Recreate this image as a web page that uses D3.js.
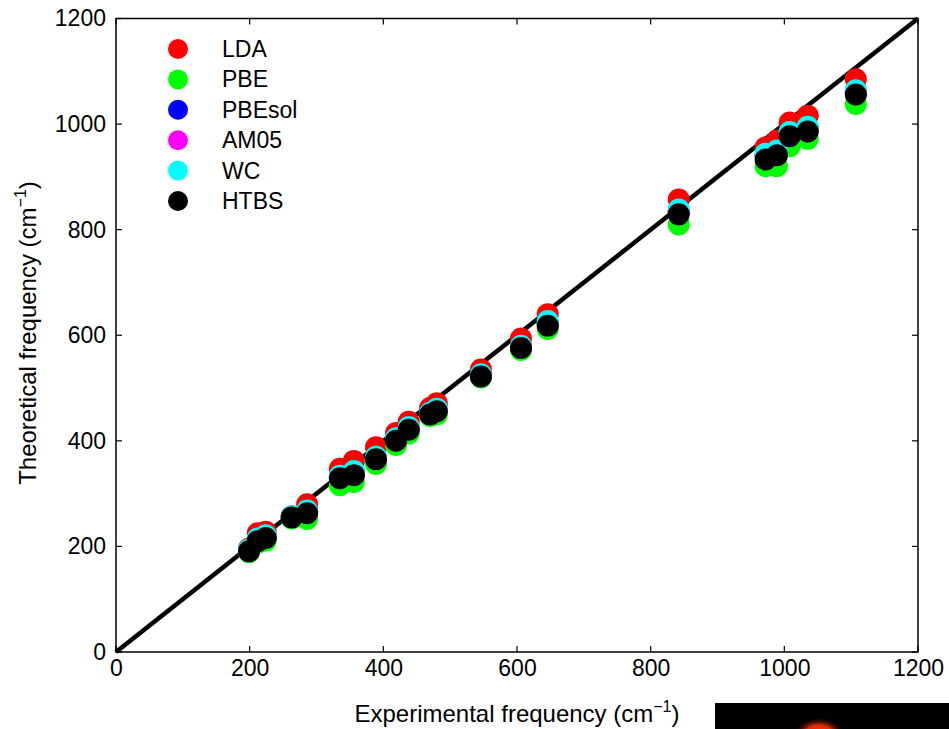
<!DOCTYPE html>
<html><head><meta charset="utf-8">
<script src="https://cdn.jsdelivr.net/npm/d3@7"></script>
<style>
body{margin:0;background:#fff;}
text{font-family:"Liberation Sans",Arial,Helvetica,sans-serif;fill:#000;}
</style></head>
<body><svg id="c" width="949" height="729"></svg>
<script>
const experimental = [199,212,224,263,286,335,356,389,419,438,470,480,546,606,646,842,972,989,1008,1035,1107];
const LDA    = [196,225,228,257,280,347,362,388,415,436,462,471,535,594,640,857,956,969,1003,1016,1085];
const PBE    = [189,207,211,253,252,316,322,356,392,414,447,450,520,572,612,810,920,920,958,972,1038];
const PBEsol = [192,213,218,256,266,331,339,366,402,423,451,458,523,577,622,834,940,946,981,991,1060];
const AM05   = [192,213,219,256,266,332,340,367,403,424,451,458,524,578,623,835,941,947,982,992,1061];
const WC     = [194,215,221,257,268,334,343,370,405,426,453,461,526,580,627,838,944,950,985,995,1064];
const HTBS   = [191,210,216,255,263,329,335,365,400,421,450,456,522,576,618,829,933,941,977,986,1056];
const seriesNames = ["LDA","PBE","PBEsol","AM05","WC","HTBS"];
const seriesColors = ["#ff0000","#00ff00","#0000ff","#ff00ff","#00ffff","#000000"];
const seriesValues = [LDA,PBE,PBEsol,AM05,WC,HTBS];
const ticks = [0,200,400,600,800,1000,1200];

const svg = d3.select("#c");
const L=116, R=918, T=18.5, B=652;
const x = d3.scaleLinear().domain([0,1200]).range([L,R]);
const y = d3.scaleLinear().domain([0,1200]).range([B,T]);

// fragment of neighbouring figure
const defs = svg.append("defs");
const rg = defs.append("radialGradient").attr("id","glow");
rg.append("stop").attr("offset","0%").attr("stop-color","#ff3a10");
rg.append("stop").attr("offset","55%").attr("stop-color","#e02a08");
rg.append("stop").attr("offset","100%").attr("stop-color","#000").attr("stop-opacity",0);
svg.append("rect").attr("x",715).attr("y",703).attr("width",234).attr("height",26).attr("fill","#000");
svg.append("ellipse").attr("cx",819).attr("cy",735).attr("rx",26).attr("ry",18).attr("fill","url(#glow)");

// diagonal line
svg.append("line").attr("x1",x(0)).attr("y1",y(0)).attr("x2",x(1200)).attr("y2",y(1200))
  .attr("stroke","#000").attr("stroke-width",4.5);

// points
seriesValues.forEach((vals,i)=>{
  svg.append("g").selectAll("circle").data(vals).join("circle")
    .attr("cx",(d,j)=>x(experimental[j])).attr("cy",d=>y(d)).attr("r",11)
    .attr("fill",seriesColors[i]);
});

// frame
svg.append("rect").attr("x",L).attr("y",T).attr("width",R-L).attr("height",B-T)
  .attr("fill","none").attr("stroke","#000").attr("stroke-width",1.5);

// axes
const fmt = d3.format("d");
const ax = svg.append("g").attr("transform",`translate(0,${B})`)
  .call(d3.axisBottom(x).tickValues(ticks).tickFormat(fmt).tickSize(0).tickPadding(8));
const ay = svg.append("g").attr("transform",`translate(${L},0)`)
  .call(d3.axisLeft(y).tickValues(ticks).tickFormat(fmt).tickSize(0).tickPadding(10));
[ax,ay].forEach(a=>{a.select(".domain").remove();a.selectAll("text").attr("font-size",23).attr("fill","#000").style("font-family","Liberation Sans, Arial, sans-serif");});

// inward ticks on four sides
const tl=6;
ticks.forEach(t=>{
  svg.append("line").attr("x1",x(t)).attr("x2",x(t)).attr("y1",B).attr("y2",B-tl).attr("stroke","#000").attr("stroke-width",1.2);
  svg.append("line").attr("x1",x(t)).attr("x2",x(t)).attr("y1",T).attr("y2",T+tl).attr("stroke","#000").attr("stroke-width",1.2);
  svg.append("line").attr("y1",y(t)).attr("y2",y(t)).attr("x1",L).attr("x2",L+tl).attr("stroke","#000").attr("stroke-width",1.2);
  svg.append("line").attr("y1",y(t)).attr("y2",y(t)).attr("x1",R).attr("x2",R-tl).attr("stroke","#000").attr("stroke-width",1.2);
});

// axis titles
const xt = svg.append("text").attr("x",517).attr("y",722).attr("text-anchor","middle").attr("font-size",24);
xt.append("tspan").text("Experimental frequency (cm");
xt.append("tspan").attr("dy",-10).attr("font-size",16).text("−1");
xt.append("tspan").attr("dy",10).text(")");

const yt = svg.append("text").attr("transform","translate(36,333) rotate(-90)").attr("text-anchor","middle").attr("font-size",24);
yt.append("tspan").text("Theoretical frequency (cm");
yt.append("tspan").attr("dy",-10).attr("font-size",16).text("−1");
yt.append("tspan").attr("dy",10).text(")");

// legend
const lg = svg.append("g");
seriesNames.forEach((n,i)=>{
  const cy = 49 + i*30.4;
  lg.append("circle").attr("cx",178).attr("cy",cy).attr("r",10).attr("fill",seriesColors[i]);
  lg.append("text").attr("x",222).attr("y",cy+8).attr("font-size",23).text(n);
});
</script></body></html>
